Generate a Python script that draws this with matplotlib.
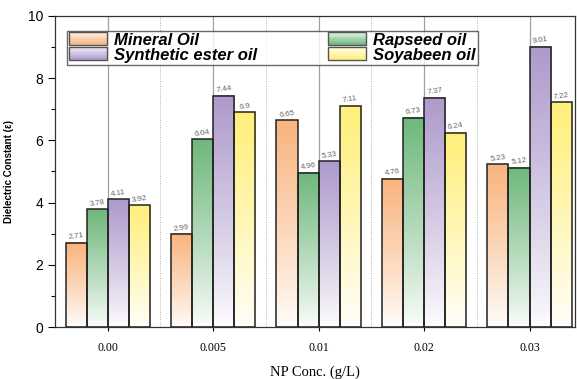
import numpy as np
import matplotlib.pyplot as plt
from matplotlib.colors import to_rgb
from matplotlib.patches import Rectangle
from matplotlib.legend_handler import HandlerBase

# ===== dados =====
conc_labels = ["0.00", "0.005", "0.01", "0.02", "0.03"]
oils = ["Mineral Oil", "Rapseed oil", "Synthetic ester oil", "Soyabeen oil"]
mineral   = [2.71, 2.99, 6.65, 4.76, 5.23]
rapseed   = [3.78, 6.04, 4.96, 6.73, 5.12]
synthetic = [4.11, 7.44, 5.33, 7.37, 9.01]
soyabeen  = [3.92, 6.90, 7.11, 6.24, 7.22]
series = [mineral, rapseed, synthetic, soyabeen]
colors = ["#F9B47E", "#6FB87C", "#AE9ACB", "#FFEF7A"]

plt.rcParams["font.family"] = ["Liberation Sans", "DejaVu Sans"]


def grad_img(color, n=64):
    # gradiente vertical: branco embaixo -> cor no topo
    c = np.array(to_rgb(color))
    t = np.linspace(0, 1, n)[:, None]
    w = 0.03 + 0.97 * t ** 0.9
    img = (1 - w) * np.ones(3) + w * c
    return img[::-1][:, None, :]


class GradHandler(HandlerBase):
    def __init__(self, color):
        super().__init__()
        self.color = color

    def create_artists(self, legend, orig, xd, yd, width, height, fontsize, trans):
        arts = []
        n = 10
        c = np.array(to_rgb(self.color))
        for i in range(n):
            w = 0.15 + 0.85 * (i + 0.5) / n
            col = (1 - w) * np.ones(3) + w * c
            r = Rectangle((xd, yd + height * (n - 1 - i) / n), width, height / n + 0.2,
                          facecolor=col, edgecolor="none", transform=trans)
            arts.append(r)
        arts.append(Rectangle((xd, yd), width, height, facecolor="none",
                              edgecolor="#555555", lw=1.0, transform=trans))
        return arts


fig = plt.figure(figsize=(5.77, 3.79), dpi=100)
ax = fig.add_axes([0.0953, 0.137, 0.901, 0.821])

x = np.arange(len(conc_labels))
bw = 0.2
for k, (vals, col) in enumerate(zip(series, colors)):
    for xi, v in zip(x, vals):
        left = xi + (k - 1.5) * bw - bw / 2
        ax.imshow(grad_img(col), extent=[left, left + bw, 0, v], aspect="auto",
                  interpolation="bilinear", zorder=2)
        ax.add_patch(Rectangle((left, 0), bw, v, facecolor="none",
                               edgecolor="#222222", lw=1.1, zorder=3))
        ax.text(left + bw / 2, v + 0.05, f"{v:g}",
                ha="center", va="bottom", fontsize=5.8, color="#666666",
                rotation=8, zorder=4)

# linhas de grade
for xi in x:
    ax.axvline(xi, color="#A0A0A0", lw=0.9, zorder=1)
for xi in x[:-1] + 0.5:
    ax.axvline(xi, color="#B0B0B0", lw=0.7, ls=(0, (1, 1.5)), zorder=1)

ax.set_xlim(-0.5, 4.43)
ax.set_ylim(0, 10)
ax.set_yticks([0, 2, 4, 6, 8, 10])
ax.set_yticks([1, 3, 5, 7, 9], minor=True)
ax.set_xticks(x)
ax.set_xticklabels(conc_labels, family="Liberation Serif", fontsize=8.5)
ax.tick_params(axis="y", labelsize=10, direction="out", length=5, width=0.8)
ax.tick_params(axis="y", which="minor", direction="out", length=3, width=0.8)
ax.tick_params(axis="x", direction="out", length=3, width=0.8, pad=8)
for s in ax.spines.values():
    s.set_linewidth(0.9)
    s.set_color("#333333")

ax.set_xlabel("NP Conc. (g/L)", family="Liberation Serif", fontsize=10.5, labelpad=8)
ax.set_ylabel("Dielectric Constant (ε)", fontsize=7, fontweight="bold", labelpad=10)

handles = [Rectangle((0, 0), 1, 1) for _ in range(4)]
order = [0, 2, 1, 3]
leg = ax.legend([handles[i] for i in order], [oils[i] for i in order], ncol=2,
                handler_map={handles[i]: GradHandler(colors[i]) for i in range(4)},
                loc="upper left", bbox_to_anchor=(0.023, 0.95), borderaxespad=0,
                prop={"weight": "bold", "style": "italic", "size": 12},
                handlelength=2.3, handleheight=0.8, handletextpad=0.45,
                columnspacing=4.2, labelspacing=0.0, borderpad=0.1,
                frameon=True, fancybox=False, edgecolor="#444444")
leg.get_frame().set_linewidth(1.0)
leg.set_zorder(5)

fig.savefig("out.png", dpi=100)
